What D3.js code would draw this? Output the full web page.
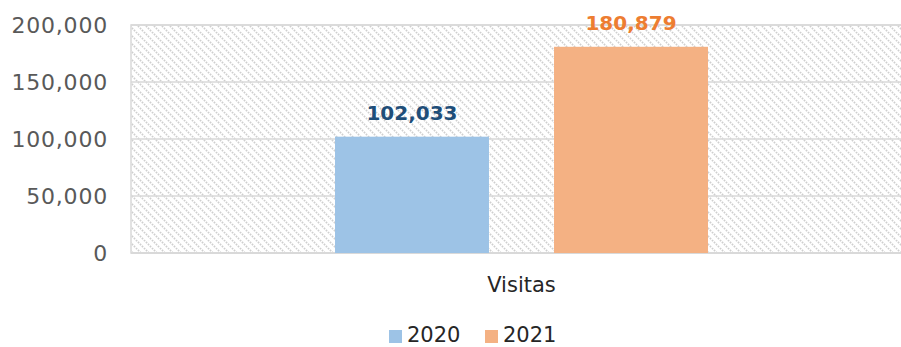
<!DOCTYPE html>
<html>
<head>
<meta charset="utf-8">
<script src="https://cdn.jsdelivr.net/npm/d3@7"></script>
<style>
  html, body { margin: 0; padding: 0; background: #fff; }
  svg { display: block; font-family: "DejaVu Sans", sans-serif; }
</style>
</head>
<body>
<svg id="chart" width="901" height="347"></svg>
<script>
// Chart data
const categories = ["Visitas"];
const seriesNames = ["2020", "2021"];
const values2020 = [102033];
const values2021 = [180879];
const yTicks = [0, 50000, 100000, 150000, 200000];

const seriesColors = { "2020": "#9DC3E6", "2021": "#F4B183" };
const labelColors = { "2020": "#1F4E79", "2021": "#ED7D31" };

const svg = d3.select("#chart");
const plot = { left: 131, right: 912, top: 25, bottom: 253 };

// Hatched plot background
const defs = svg.append("defs");
const pat = defs.append("pattern")
  .attr("id", "hatch")
  .attr("patternUnits", "userSpaceOnUse")
  .attr("width", 8).attr("height", 8);
pat.append("rect").attr("width", 8).attr("height", 8).attr("fill", "#fff");
pat.append("path")
  .attr("d", "M-2,-2 L10,10 M-2,6 L2,10 M6,-2 L10,2")
  .attr("stroke", "#cfcfcf")
  .attr("stroke-width", 1.7)
  .attr("stroke-dasharray", "1.6,1.2");

const x0 = d3.scaleBand().domain(categories)
  .range([plot.left, plot.right]).paddingInner(0).paddingOuter(0.547);
const x1 = d3.scaleBand().domain(seriesNames)
  .range([0, x0.bandwidth()]).paddingInner(0.297).paddingOuter(0);
const y = d3.scaleLinear().domain([0, 200000]).range([plot.bottom, plot.top]);

svg.append("rect")
  .attr("x", plot.left).attr("y", plot.top)
  .attr("width", plot.right - plot.left).attr("height", plot.bottom - plot.top)
  .attr("fill", "url(#hatch)")
  .attr("stroke", "#d9d9d9").attr("stroke-width", 1.5);

// Gridlines
svg.append("g").selectAll("line").data(yTicks.filter(d => d > 0)).join("line")
  .attr("x1", plot.left).attr("x2", plot.right)
  .attr("y1", d => y(d)).attr("y2", d => y(d))
  .attr("stroke", "#d9d9d9").attr("stroke-width", 1.5);

// Y axis
const yAxis = d3.axisLeft(y).tickValues(yTicks).tickSize(0).tickPadding(0)
  .tickFormat(d3.format(","));
const gy = svg.append("g").attr("transform", `translate(${plot.left - 23},0)`).call(yAxis);
gy.select(".domain").remove();
gy.selectAll("text")
  .attr("font-family", "DejaVu Sans, sans-serif")
  .attr("font-size", 22).attr("fill", "#595959")
  .attr("letter-spacing", "0.8px")
  .attr("dy", "0.36em");

// Category axis line
svg.append("line")
  .attr("x1", plot.left).attr("x2", plot.right)
  .attr("y1", plot.bottom).attr("y2", plot.bottom)
  .attr("stroke", "#d9d9d9").attr("stroke-width", 2);

// Bars
const rows = categories.map((c, i) => ({
  category: c,
  items: [
    { series: "2020", value: values2020[i] },
    { series: "2021", value: values2021[i] }
  ]
}));

const groups = svg.append("g").selectAll("g").data(rows).join("g")
  .attr("transform", d => `translate(${x0(d.category)},0)`);

groups.selectAll("rect").data(d => d.items).join("rect")
  .attr("x", d => x1(d.series))
  .attr("y", d => y(d.value))
  .attr("width", x1.bandwidth())
  .attr("height", d => y(0) - y(d.value))
  .attr("fill", d => seriesColors[d.series]);

groups.selectAll("text").data(d => d.items).join("text")
  .attr("x", d => x1(d.series) + x1.bandwidth() / 2)
  .attr("y", d => y(d.value) - 17)
  .attr("text-anchor", "middle")
  .attr("font-size", 20).attr("font-weight", "bold")
  .attr("fill", d => labelColors[d.series])
  .text(d => d3.format(",")(d.value));

// Category label
svg.append("g").selectAll("text").data(categories).join("text")
  .attr("x", d => x0(d) + x0.bandwidth() / 2)
  .attr("y", 292)
  .attr("text-anchor", "middle")
  .attr("font-size", 21).attr("fill", "#262626")
  .text(d => d);

// Legend
const legendItems = [
  { name: "2020", x: 389 },
  { name: "2021", x: 485 }
];
const lg = svg.append("g").selectAll("g").data(legendItems).join("g")
  .attr("transform", d => `translate(${d.x},330)`);
lg.append("rect").attr("width", 13).attr("height", 13)
  .attr("fill", d => seriesColors[d.name]);
lg.append("text").attr("x", 18).attr("y", 12)
  .attr("font-size", 21).attr("fill", "#262626")
  .text(d => d.name);
</script>
</body>
</html>
